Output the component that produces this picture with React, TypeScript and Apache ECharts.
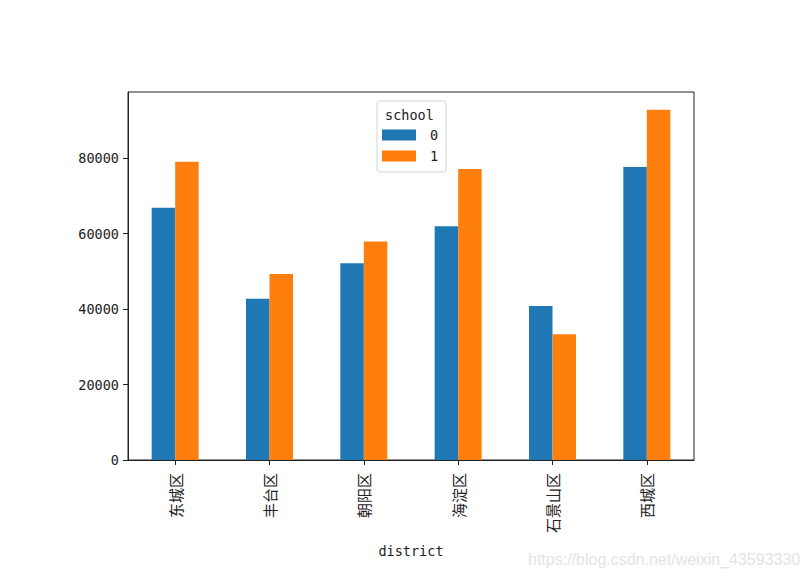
import React, { useEffect, useRef } from "react";
import * as echarts from "echarts";

const districts = ["东城区", "丰台区", "朝阳区", "海淀区", "石景山区", "西城区"];
const school0 = [66800, 42700, 52100, 61900, 40800, 77600];
const school1 = [79000, 49300, 57900, 77100, 33300, 92800];
const yTicks = [0, 20000, 40000, 60000, 80000];
const seriesNames = ["0", "1"];

const MONO = "'DejaVu Sans Mono', monospace";
const CJK = "'Noto Sans CJK SC', 'DejaVu Sans', sans-serif";

export default function App() {
  const ref = useRef<HTMLDivElement>(null);
  useEffect(() => {
    if (!ref.current) return;
    const chart = echarts.init(ref.current, undefined, { renderer: "svg" });
    chart.setOption({
      animation: false,
      backgroundColor: "#ffffff",
      grid: {
        left: 128,
        right: 114,
        top: 92,
        bottom: 117,
        show: true,
        borderColor: "#222222",
        borderWidth: 1,
      },
      legend: {
        orient: "vertical",
        left: 382,
        top: 128,
        padding: 0,
        itemWidth: 34,
        itemHeight: 11,
        itemGap: 7,
        icon: "rect",
        data: seriesNames,
        textStyle: {
          fontFamily: MONO,
          fontSize: 13.5,
          color: "#222222",
          padding: [0, 0, 0, 9],
        },
      },
      xAxis: {
        type: "category",
        data: districts,
        name: "district",
        nameLocation: "middle",
        nameGap: 84,
        nameTextStyle: { fontFamily: MONO, fontSize: 13.5, color: "#222222" },
        axisLine: { show: true, lineStyle: { color: "#222222", width: 1 } },
        axisTick: { show: true, alignWithLabel: true, length: 5, lineStyle: { color: "#222222" } },
        axisLabel: {
          rotate: 90,
          margin: 13,
          fontFamily: CJK,
          fontSize: 15,
          color: "#222222",
        },
      },
      yAxis: {
        type: "value",
        min: 0,
        max: 97500,
        interval: 20000,
        splitLine: { show: false },
        axisLine: { show: true, lineStyle: { color: "#222222", width: 1 } },
        axisTick: {
          show: true,
          length: 5,
          lineStyle: { color: "#222222" },
          customValues: yTicks,
        },
        axisLabel: {
          customValues: yTicks,
          formatter: (v: number) => String(v),
          margin: 9,
          fontFamily: MONO,
          fontSize: 13.5,
          color: "#222222",
        },
      },
      series: [
        {
          name: seriesNames[0],
          type: "bar",
          data: school0,
          barWidth: 23.5,
          barGap: "0%",
          itemStyle: { color: "#1f77b4" },
        },
        {
          name: seriesNames[1],
          type: "bar",
          data: school1,
          barWidth: 23.5,
          barGap: "0%",
          itemStyle: { color: "#ff7f0e" },
        },
      ],
      graphic: [
        {
          type: "rect",
          z: 0,
          shape: { x: 377, y: 101, width: 69, height: 71, r: 3 },
          style: { fill: "rgba(255,255,255,0.8)", stroke: "#d4d4d4", lineWidth: 1 },
        },
        {
          type: "text",
          x: 385,
          y: 115,
          style: {
            text: "school",
            fontFamily: MONO,
            fontSize: 13.5,
            fill: "#222222",
            verticalAlign: "middle",
          },
        },
        {
          type: "text",
          x: 528,
          y: 559,
          style: {
            text: "https://blog.csdn.net/weixin_43593330",
            fontFamily: "'Liberation Sans', Arial, sans-serif",
            fontSize: 16,
            fill: "#e4e4e4",
            verticalAlign: "middle",
          },
        },
      ],
    });
    return () => chart.dispose();
  }, []);
  return (
    <div
      ref={ref}
      style={{ position: "absolute", left: 0, top: 0, width: 808, height: 577 }}
    />
  );
}
